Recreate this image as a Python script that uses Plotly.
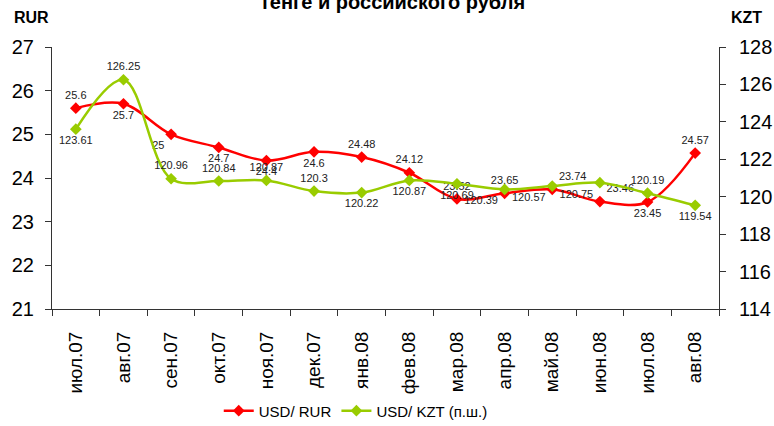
import plotly.graph_objects as go

months = ["июл.07", "авг.07", "сен.07", "окт.07", "ноя.07", "дек.07", "янв.08",
          "фев.08", "мар.08", "апр.08", "май.08", "июн.08", "июл.08", "авг.08"]
usd_rur = [25.6, 25.7, 25.0, 24.7, 24.4, 24.6, 24.48, 24.12, 23.52, 23.65, 23.74, 23.46, 23.45, 24.57]
usd_kzt = [123.61, 126.25, 120.96, 120.84, 120.87, 120.3, 120.22, 120.87, 120.69, 120.39, 120.57, 120.75, 120.19, 119.54]
rur_labels = ["25.6", "25.7", "25", "24.7", "24.4", "24.6", "24.48", "24.12", "23.52", "23.65", "23.74", "23.46", "23.45", "24.57"]
kzt_labels = ["123.61", "126.25", "120.96", "120.84", "120.87", "120.3", "120.22", "120.87", "120.69", "120.39", "120.57", "120.75", "120.19", "119.54"]
rur_pos = ["top center", "bottom center", "bottom left", "bottom center", "bottom center", "bottom center",
           "top center", "top center", "top center", "top center", "top right", "top right", "bottom center", "top center"]
kzt_pos = ["bottom center", "top center", "top center", "top center", "top center", "top center",
           "bottom center", "bottom center", "bottom center", "bottom left", "bottom left", "bottom left", "top center", "bottom center"]

FONT = "Liberation Sans, Arial, sans-serif"
AX = "#333333"

fig = go.Figure()
fig.add_trace(go.Scatter(
    x=months, y=usd_rur, name="USD/ RUR", mode="lines+markers+text",
    line=dict(color="#FF0000", width=2.5, shape="spline", smoothing=1),
    marker=dict(symbol="diamond", size=9, color="#FF0000"),
    text=rur_labels, textposition=rur_pos,
    textfont=dict(family=FONT, size=11, color="#222222"),
    yaxis="y", cliponaxis=False,
))
fig.add_trace(go.Scatter(
    x=months, y=usd_kzt, name="USD/ KZT (п.ш.)", mode="lines+markers+text",
    line=dict(color="#99CC00", width=2.5, shape="spline", smoothing=1),
    marker=dict(symbol="diamond", size=9, color="#99CC00"),
    text=kzt_labels, textposition=kzt_pos,
    textfont=dict(family=FONT, size=11, color="#222222"),
    yaxis="y2", cliponaxis=False,
))

fig.update_layout(
    width=774, height=426,
    margin=dict(l=52, r=55, t=47, b=117, autoexpand=False),
    paper_bgcolor="white", plot_bgcolor="white",
    font=dict(family=FONT, color="#000000"),
    showlegend=True,
    legend=dict(orientation="h", x=0.25, xanchor="left", y=-0.389, yanchor="middle",
                font=dict(size=15, family=FONT), itemwidth=30, tracegroupgap=0),
    xaxis=dict(
        type="category", range=[-0.5, 13.5], showgrid=False, automargin=False,
        showline=True, linecolor=AX, linewidth=1,
        ticks="outside", tickson="boundaries", ticklen=6, tickcolor=AX,
        tickangle=-90, tickfont=dict(size=19, family=FONT), ticklabelstandoff=14,
    ),
    yaxis=dict(
        range=[21, 27], dtick=1, showgrid=False, zeroline=False, automargin=False,
        showline=True, linecolor=AX, linewidth=1,
        ticks="outside", ticklen=6, tickcolor=AX,
        tickfont=dict(size=20, family=FONT), ticklabelstandoff=7,
    ),
    yaxis2=dict(
        range=[114, 128], dtick=2, showgrid=False, zeroline=False, automargin=False,
        overlaying="y", side="right",
        showline=True, linecolor=AX, linewidth=1,
        ticks="outside", ticklen=6, tickcolor=AX,
        tickfont=dict(size=20, family=FONT), ticklabelstandoff=9,
    ),
    annotations=[
        dict(text="<b>тенге и российского рубля</b>", xref="paper", yref="paper",
             x=0.5, xshift=7, y=1.0, yshift=45, xanchor="center", yanchor="middle",
             showarrow=False, font=dict(size=20, family=FONT)),
        dict(text="<b>RUR</b>", xref="paper", yref="paper", x=0, xshift=-40, y=1.0, yshift=30,
             xanchor="left", yanchor="middle", showarrow=False, font=dict(size=16, family=FONT)),
        dict(text="<b>KZT</b>", xref="paper", yref="paper", x=1.0, xshift=10, y=1.0, yshift=30,
             xanchor="left", yanchor="middle", showarrow=False, font=dict(size=16, family=FONT)),
    ],
)

fig.write_html("out.html", config={"displayModeBar": False},
               post_script="document.body.style.margin='0';")
